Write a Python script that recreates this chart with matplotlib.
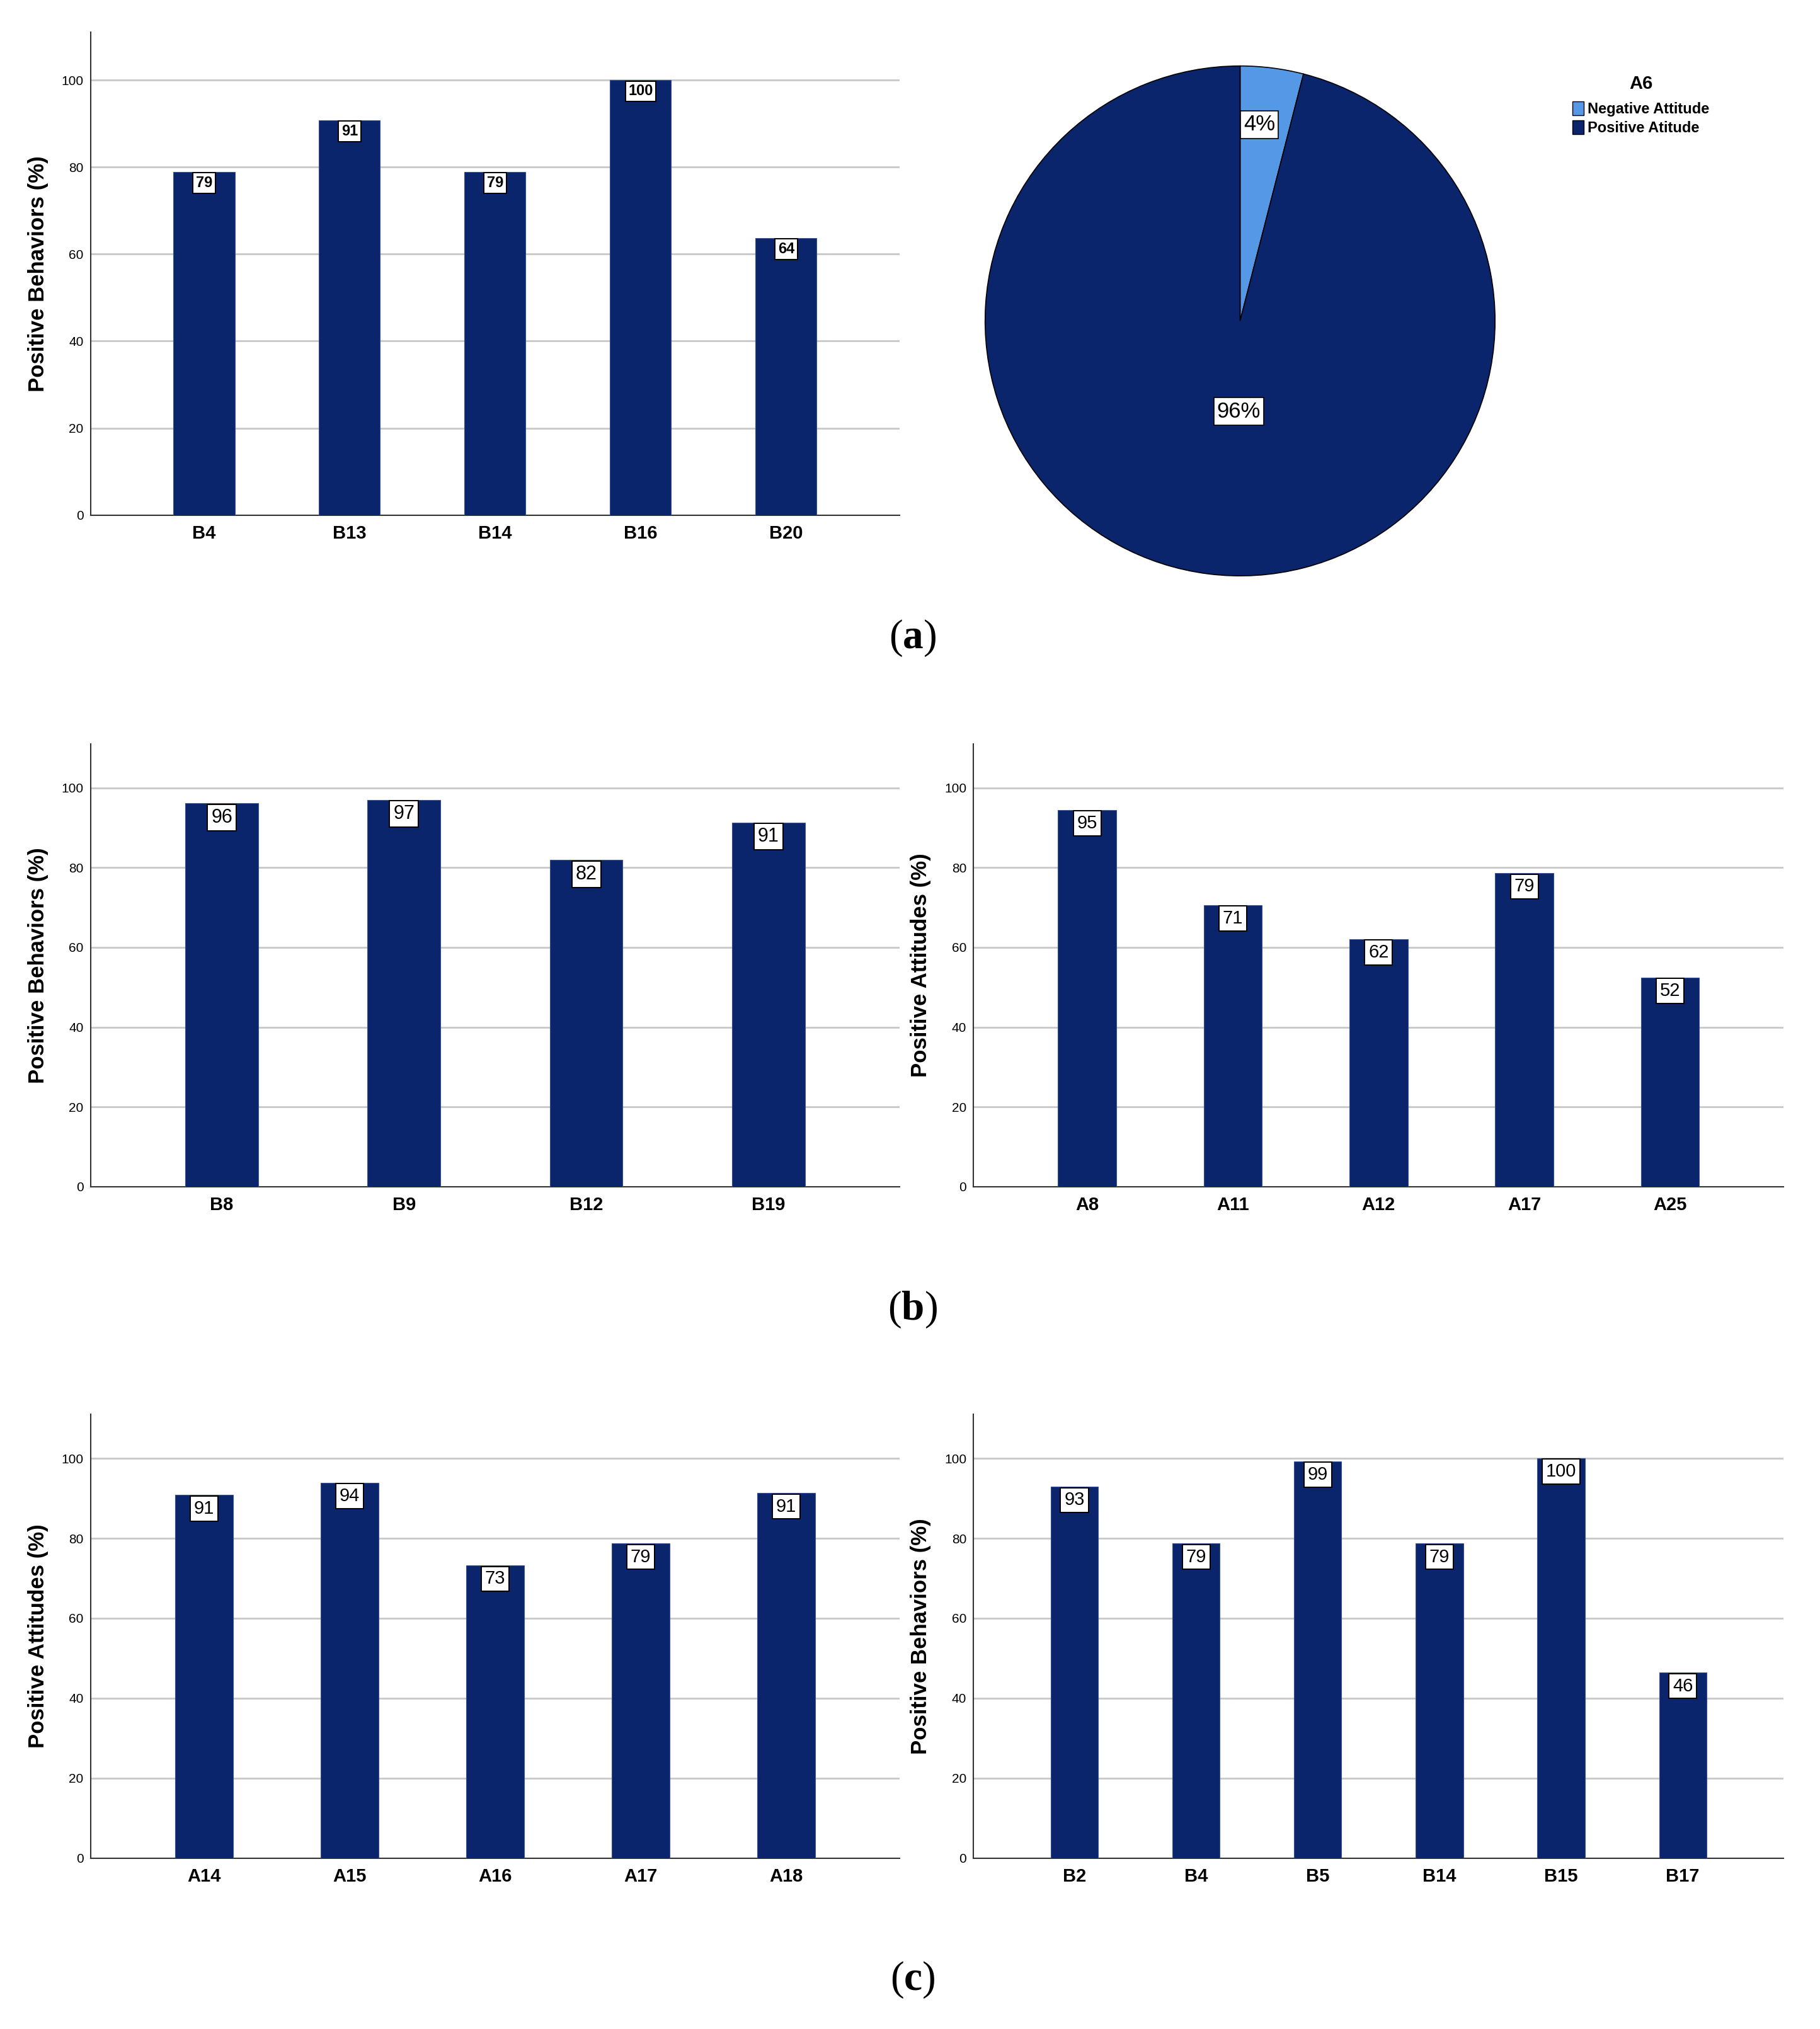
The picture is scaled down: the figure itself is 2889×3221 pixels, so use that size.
import matplotlib
matplotlib.use('Agg')
import matplotlib.pyplot as plt
import numpy as np
from matplotlib.patches import Patch

plt.rcParams['mathtext.fontset'] = 'custom'
plt.rcParams['mathtext.rm'] = 'Liberation Serif'
plt.rcParams['mathtext.bf'] = 'Liberation Serif:bold'

# data
a_cats = ['B4', 'B13', 'B14', 'B16', 'B20']
a_vals = [78.9, 90.8, 78.9, 100, 63.7]
a_labels = ['79', '91', '79', '100', '64']

pie_cats = ['Negative Attitude', 'Positive Atitude']
pie_vals = [4, 96]

b1_cats = ['B8', 'B9', 'B12', 'B19']
b1_vals = [96.1, 97.0, 81.9, 91.3]
b1_labels = ['96', '97', '82', '91']

b2_cats = ['A8', 'A11', 'A12', 'A17', 'A25']
b2_vals = [94.5, 70.6, 62.1, 78.6, 52.4]
b2_labels = ['95', '71', '62', '79', '52']

c1_cats = ['A14', 'A15', 'A16', 'A17', 'A18']
c1_vals = [90.8, 93.9, 73.2, 78.7, 91.3]
c1_labels = ['91', '94', '73', '79', '91']

c2_cats = ['B2', 'B4', 'B5', 'B14', 'B15', 'B17']
c2_vals = [92.9, 78.7, 99.3, 78.7, 100, 46.4]
c2_labels = ['93', '79', '99', '79', '100', '46']

navy = '#0B256D'
light = '#5598E5'
narrow = ['Liberation Sans Narrow', 'Liberation Sans', 'DejaVu Sans']
arial = ['Liberation Sans', 'DejaVu Sans']

W, H = 1406.0, 1568.0
fig = plt.figure(figsize=(28.89, 32.21), dpi=100)


def box(x0, x1, ytop, ybot):
    return [x0 / W, 1 - ybot / H, (x1 - x0) / W, (ybot - ytop) / H]


def bar_panel(rect, cats, vals, labels, ylabel, margin, width, fam, lab_size, lab_weight):
    ax = fig.add_axes(rect)
    x = np.arange(len(cats))
    ax.bar(x, vals, width, color=navy, edgecolor='#3a5290', linewidth=0.8, zorder=3)
    ax.set_xlim(-margin, len(cats) - 1 + margin)
    ax.set_ylim(0, 111)
    ax.set_yticks([0, 20, 40, 60, 80, 100])
    ax.set_xticks(x)
    ax.set_xticklabels(cats, fontsize=21, fontweight='bold', family=fam)
    for t in ax.get_yticklabels():
        t.set_fontsize(15)
        t.set_family(fam)
    ax.tick_params(axis='both', length=0)
    ax.tick_params(axis='x', pad=11)
    ax.tick_params(axis='y', pad=8)
    ax.grid(axis='y', color='#c8c8c8', linewidth=2, zorder=0)
    ax.set_axisbelow(True)
    for s in ['top', 'right']:
        ax.spines[s].set_visible(False)
    for s in ['left', 'bottom']:
        ax.spines[s].set_color('#333333')
        ax.spines[s].set_linewidth(1.5)
    ax.set_ylabel(ylabel, fontsize=25, fontweight='bold', family=arial)
    ax.yaxis.set_label_coords(-0.052, 0.5)
    pad = 0.2
    for xi, v, lab in zip(x, vals, labels):
        ax.annotate(lab, (xi, v), xytext=(0, -pad * lab_size - 1), textcoords='offset points',
                    ha='center', va='top', fontsize=lab_size, fontweight=lab_weight, family=fam,
                    bbox=dict(boxstyle='square,pad=%s' % pad, fc='white', ec='black', lw=1.4),
                    zorder=5)
    return ax


bar_panel(box(70, 695, 25, 398), a_cats, a_vals, a_labels, 'Positive Behaviors (%)',
          0.78, 0.42, narrow, 17, 'bold')
bar_panel(box(70, 695, 575, 917), b1_cats, b1_vals, b1_labels, 'Positive Behaviors (%)',
          0.72, 0.40, arial, 22, 'normal')
bar_panel(box(752, 1378, 575, 917), b2_cats, b2_vals, b2_labels, 'Positive Attitudes (%)',
          0.78, 0.40, narrow, 21, 'normal')
bar_panel(box(70, 695, 1093, 1436), c1_cats, c1_vals, c1_labels, 'Positive Attitudes (%)',
          0.78, 0.40, narrow, 21, 'normal')
bar_panel(box(752, 1378, 1093, 1436), c2_cats, c2_vals, c2_labels, 'Positive Behaviors (%)',
          0.83, 0.39, narrow, 21, 'normal')

# pie
pax = fig.add_axes(box(759, 1157, 49, 447))
wedges, _ = pax.pie(pie_vals, colors=[light, navy], startangle=90, counterclock=False,
                    wedgeprops=dict(edgecolor='black', linewidth=1.2), radius=1)
pax.set_xlim(-1.01, 1.01)
pax.set_ylim(-1.01, 1.01)
pax.set_aspect('equal')
label_pos = [(0.075, 0.77), (-0.005, -0.355)]
for v, (lx, ly) in zip(pie_vals, label_pos):
    pax.text(lx, ly, '%d%%' % v, ha='center', va='center', fontsize=25, family=narrow,
             bbox=dict(boxstyle='square,pad=0.15', fc='white', ec='black', lw=1.2))

handles = [Patch(facecolor=c, edgecolor='black', label=l) for c, l in zip([light, navy], pie_cats)]
leg = fig.legend(handles=handles, title='A6', loc='upper left',
                 bbox_to_anchor=(1209 / W, 1 - 52 / H), frameon=False,
                 prop=dict(family=narrow, weight='bold', size=17),
                 handlelength=0.75, handleheight=1.1, handletextpad=0.25, labelspacing=0.25,
                 borderpad=0, title_fontproperties=dict(family=narrow, weight='bold', size=21))
leg._legend_box.sep = 10

# captions
for lab, y in zip(['a', 'b', 'c'], [493, 1012, 1530]):
    fig.text(705 / W, 1 - y / H, r'$(\mathbf{%s})$' % lab, ha='center', va='center', fontsize=47)

fig.savefig('out.png', dpi=100)
